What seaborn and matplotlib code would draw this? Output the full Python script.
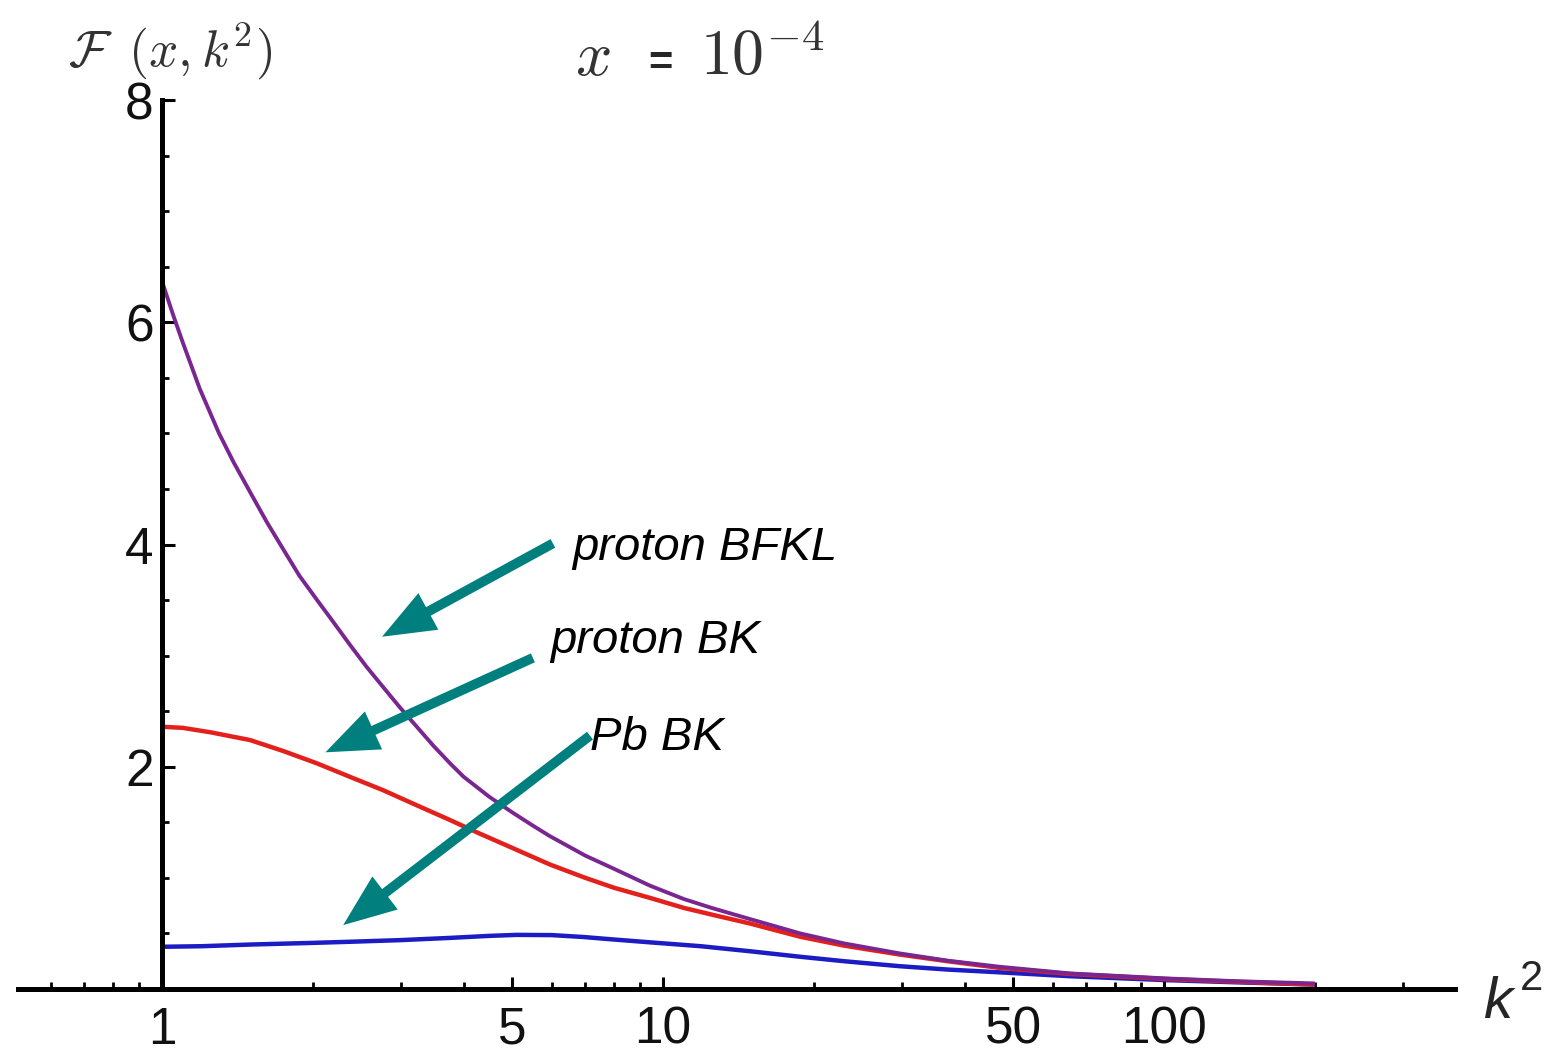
import numpy as np
import pandas as pd
import matplotlib
matplotlib.use("Agg")
import matplotlib.pyplot as plt
import seaborn as sns

# ---- data ----
k_bfkl = [1.0, 1.05, 1.1, 1.19, 1.3, 1.39, 1.5, 1.62, 1.75, 1.88, 2.04, 2.2, 2.37, 2.56, 2.76,
          2.99, 3.24, 3.48, 3.76, 4.0, 4.5, 5.0, 5.5, 5.95, 7.0, 8.0, 9.42, 11.0, 12.5, 14.9,
          18.8, 23.0, 29.7, 37.0, 47.0, 65.0, 101.0, 140.0, 200.0]
f_bfkl = [6.37, 6.08, 5.82, 5.40, 5.00, 4.74, 4.47, 4.20, 3.95, 3.72, 3.50, 3.30, 3.10, 2.90, 2.72,
          2.53, 2.35, 2.19, 2.03, 1.91, 1.73, 1.59, 1.47, 1.375, 1.20, 1.08, 0.93, 0.81, 0.73, 0.63,
          0.50, 0.41, 0.32, 0.255, 0.20, 0.14, 0.095, 0.07, 0.05]

k_bk = [1.0, 1.1, 1.25, 1.5, 1.75, 2.04, 2.4, 2.76, 3.2, 3.76, 4.3, 5.0, 5.95, 7.0, 8.0, 9.42,
        11.0, 12.5, 14.9, 18.8, 23.0, 29.7, 37.0, 47.0, 65.0, 101.0, 140.0, 200.0]
f_bk = [2.36, 2.35, 2.31, 2.24, 2.14, 2.03, 1.90, 1.79, 1.66, 1.52, 1.40, 1.27, 1.12, 1.00, 0.91, 0.82,
        0.73, 0.67, 0.59, 0.47, 0.39, 0.31, 0.25, 0.19, 0.135, 0.09, 0.065, 0.04]

k_pb = [1.0, 1.2, 1.5, 2.0, 2.37, 3.0, 3.76, 4.5, 5.1, 6.0, 6.93, 8.0, 9.42, 11.9, 14.9, 18.8,
        23.0, 29.7, 37.0, 47.0, 65.0, 101.0, 140.0, 200.0]
f_pb = [0.38, 0.385, 0.40, 0.415, 0.425, 0.44, 0.46, 0.478, 0.487, 0.485, 0.468, 0.445, 0.42, 0.385,
        0.34, 0.29, 0.25, 0.205, 0.175, 0.15, 0.115, 0.08, 0.06, 0.04]

series_names = ["Pb BK", "proton BK", "proton BFKL"]
series_colors = ["#1c1cc4", "#e3201b", "#7a2690"]
series_widths = [3.2, 3.2, 2.8]

x_major = [1, 5, 10, 50, 100]
x_major_labels = ["1", "5", "10", "50", "100"]
x_minor = [0.6, 0.7, 0.8, 0.9, 2, 3, 4, 6, 7, 8, 9, 20, 30, 40, 60, 70, 80, 90, 200, 300]
y_major = [2, 4, 6, 8]
y_minor = [0.5, 1, 1.5, 2.5, 3, 3.5, 4.5, 5, 5.5, 6.5, 7, 7.5]

df = pd.concat([
    pd.DataFrame({"k2": k_pb, "F": f_pb, "curve": "Pb BK"}),
    pd.DataFrame({"k2": k_bk, "F": f_bk, "curve": "proton BK"}),
    pd.DataFrame({"k2": k_bfkl, "F": f_bfkl, "curve": "proton BFKL"}),
], ignore_index=True)

sns.set_style("white")
plt.rcParams["font.family"] = ["Liberation Sans", "DejaVu Sans"]
plt.rcParams["mathtext.fontset"] = "cm"

W, H = 1554, 1053
fig = plt.figure(figsize=(W / 100, H / 100), dpi=100)
ax = fig.add_axes([18 / W, (H - 989) / H, (1455 - 18) / W, (989 - 100) / H])

sns.lineplot(data=df, x="k2", y="F", hue="curve", hue_order=series_names,
             palette=dict(zip(series_names, series_colors)), estimator=None,
             sort=True, linewidth=3.2, legend=False, ax=ax)
for line, lw in zip(ax.lines, series_widths):
    line.set_linewidth(lw)
    line.set_solid_capstyle("butt")

ax.set_xscale("log")
ax.set_xlim(0.516, 381)
ax.set_ylim(0, 8)

for s in ["top", "right"]:
    ax.spines[s].set_visible(False)
ax.spines["left"].set_position(("data", 1))
for s in ["left", "bottom"]:
    ax.spines[s].set_linewidth(3.6)
    ax.spines[s].set_color("black")

ax.set_xticks(x_major)
ax.set_xticklabels(x_major_labels)
ax.set_xticks(x_minor, minor=True)
ax.xaxis.set_minor_formatter(matplotlib.ticker.NullFormatter())
ax.set_yticks(y_major)
ax.set_yticklabels([str(v) for v in y_major])
ax.set_yticks(y_minor, minor=True)

ax.tick_params(axis="both", which="both", bottom=True, left=True, top=False, right=False)
ax.tick_params(axis="both", which="major", direction="in", length=9, width=2.2,
               colors="black", labelsize=37, labelcolor="#111111")
ax.tick_params(axis="both", which="minor", direction="in", length=5, width=2.0, colors="black")
ax.tick_params(axis="x", which="major", pad=12)
ax.tick_params(axis="y", which="major", pad=6)
ax.set_xlabel("")
ax.set_ylabel("")

# annotations
teal = "#007f7f"
arrow_kw = dict(arrowstyle="simple,head_length=3.8,head_width=3.0,tail_width=0.7",
                mutation_scale=10, color=teal, shrinkA=0, shrinkB=0, lw=0)
ax.annotate("", xy=(2.75, 3.17), xytext=(6.03, 4.01), arrowprops=arrow_kw)
ax.annotate("", xy=(2.12, 2.13), xytext=(5.50, 2.98), arrowprops=arrow_kw)
ax.annotate("", xy=(2.30, 0.575), xytext=(7.15, 2.28), arrowprops=arrow_kw)

txt_kw = dict(fontsize=34, style="italic", color="black", ha="left", va="baseline")
ax.text(6.58, 3.86, "proton BFKL", **txt_kw)
ax.text(5.95, 3.02, "proton BK", **txt_kw)
ax.text(7.15, 2.15, "Pb BK", **txt_kw)

# axis labels
fig.text(68 / W, 1 - 66 / H, r"$\mathcal{F}_{\,\,}\,(x, k^2)$", fontsize=37,
         color="#333333", ha="left", va="baseline")
fig.text(1483 / W, 1 - 1018 / H, "k", fontsize=42, style="italic", ha="left", va="baseline")
fig.text(1520 / W, 1 - 990 / H, "2", fontsize=30, ha="left", va="baseline")

# title
fig.text(575 / W, 1 - 75 / H, r"$x$", fontsize=46, color="#333333", ha="left", va="baseline")
fig.text(648 / W, 1 - 75 / H, "=", fontsize=30, fontweight="bold", ha="left", va="baseline")
fig.text(700 / W, 1 - 75 / H, r"$10^{-4}$", fontsize=46, color="#333333", ha="left", va="baseline")

fig.savefig("out.png", dpi=100)
